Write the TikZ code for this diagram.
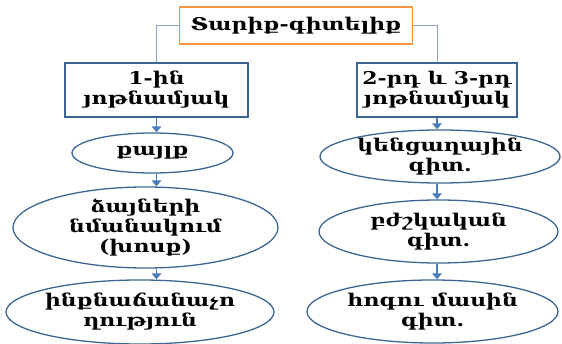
\documentclass[tikz,border=0pt]{standalone}
\usepackage{fontspec}
\setmainfont[FakeStretch=1.25]{DejaVu Serif}
\usetikzlibrary{shapes,arrows.meta,positioning}

\definecolor{boxblue}{HTML}{3C6494}
\definecolor{arrblue}{HTML}{4A7EBB}
\definecolor{linkgray}{HTML}{8BA4C4}
\definecolor{topor}{HTML}{F79646}

\tikzset{
    txt/.style={font=\bfseries\fontsize{15}{17}\selectfont, align=center},
    agebox/.style={draw=boxblue, line width=1.2pt, rectangle, inner sep=0pt},
    knell/.style={draw=boxblue, line width=1.1pt, ellipse, inner sep=0pt},
    link/.style={draw=linkgray, line width=0.6pt},
    down/.style={draw=arrblue, line width=1.6pt, -{Triangle[length=5pt,width=8pt]}}
}

\begin{document}
\begin{tikzpicture}[x=0.03cm, y=-0.03cm]
    \useasboundingbox (0,0) rectangle (562,344);

    % Top box
    \node[draw=topor, line width=1.5pt, minimum width=6.99cm, minimum height=1.11cm, inner sep=0pt, txt]
        (age) at (296,25.5) {Տարիք-գիտելիք};

    % Age periods
    \node[agebox, minimum width=5.49cm, minimum height=1.62cm, txt] (first) at (156.5,90) {1-ին\\յոթնամյակ};
    \node[agebox, minimum width=4.8cm, minimum height=1.62cm, txt] (second) at (437,90) {2-րդ և 3-րդ\\յոթնամյակ};

    % Left column
    \node[knell, minimum width=4.83cm, minimum height=1.2cm, label={[txt]center:քայլք}] (walk) at (152.5,153) {};
    \node[knell, minimum width=7.95cm, minimum height=2.43cm, label={[txt]center:ձայների\\նմանակում\\(խոսք)}] (speech) at (145.5,227.5) {};
    \node[knell, minimum width=8.04cm, minimum height=1.92cm, label={[txt]center:ինքնաճանաչո\\ղություն}] (self) at (140,312) {};

    % Right column
    \node[knell, minimum width=7.2cm, minimum height=1.59cm, label={[txt]center:կենցաղային\\գիտ.}] (daily) at (440,156.5) {};
    \node[knell, minimum width=7.17cm, minimum height=1.89cm, label={[txt]center:բժշկական\\գիտ.}] (medic) at (438.5,231.5) {};
    \node[knell, minimum width=7.53cm, minimum height=1.89cm, label={[txt]center:հոգու մասին\\գիտ.}] (soul) at (432.5,311.5) {};

    % Links from top
    \draw[link] (age.west) -| (first.north);
    \draw[link] (age.east) -| (second.north);

    % Arrows
    \draw[down] (first.south) -- (first.south |- walk.north);
    \draw[down] (first.south |- walk.south) -- (first.south |- speech.north);
    \draw[down] (first.south |- speech.south) -- (first.south |- self.north);
    \draw[down] (second.south) -- (second.south |- daily.north);
    \draw[down] (second.south |- daily.south) -- (second.south |- medic.north);
    \draw[down] (second.south |- medic.south) -- (second.south |- soul.north);
\end{tikzpicture}
\end{document}
